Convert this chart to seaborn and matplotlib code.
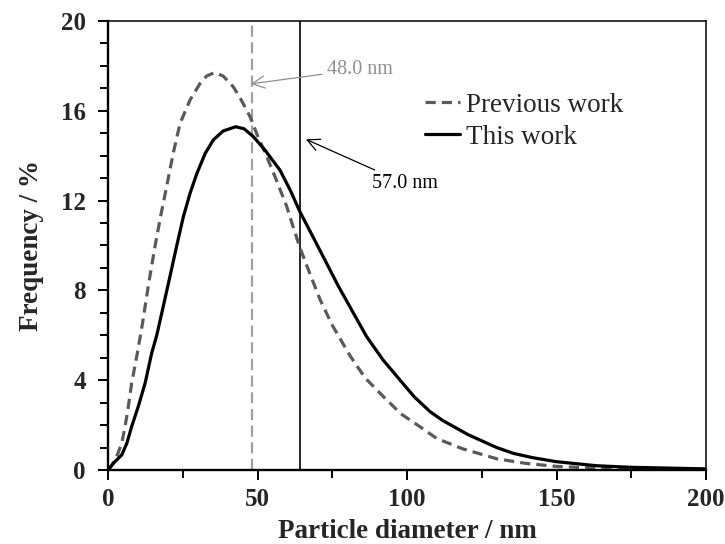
import numpy as np
import pandas as pd
import matplotlib
matplotlib.use("Agg")
import matplotlib.pyplot as plt
from matplotlib.ticker import MultipleLocator
import seaborn as sns

# ---- data ----
prev_x = [0, 1.2, 2.9, 4.6, 5.7, 6.8, 7.9, 9.6, 11.5, 13.6, 15.7, 17.6, 19.6,
          21.8, 24.1, 27.5, 30.8, 33.0, 35.6, 38.5, 41.9, 44.5, 47.5, 50.0,
          53.1, 56.5, 59.8, 62.0, 64.2, 67.5, 70.9, 75.0, 80.9, 86.0, 92.1,
          98.0, 104.3, 110, 118.5, 130, 140, 150, 169, 185, 200]
prev_y = [0, 0.2, 0.59, 1.2, 1.93, 2.82, 3.86, 5.05, 6.5, 8.3, 9.95, 11.3,
          12.62, 14.1, 15.44, 16.5, 17.22, 17.55, 17.70, 17.55, 17.07, 16.5,
          15.74, 14.9, 13.96, 12.85, 11.73, 10.8, 9.9, 8.75, 7.6, 6.45, 5.1,
          4.1, 3.27, 2.5, 1.93, 1.4, 0.95, 0.5, 0.29, 0.16, 0.05, 0.02, 0.01]

this_x = [0, 2.3, 4.6, 6.3, 7.9, 10.1, 12.4, 14.6, 16.3, 18.5, 20.7, 23.0,
          25.2, 27.5, 29.7, 32.5, 35.2, 38.5, 42.7, 45.5, 48.6, 52.5, 57.5,
          61.0, 64.2, 68.5, 73.1, 77.0, 80.9, 86.5, 92.0, 97.7, 102.5, 107.7,
          112.0, 116.6, 120.5, 125, 130, 135.6, 142, 150, 163.4, 175, 200]
this_y = [0, 0.37, 0.67, 1.19, 1.93, 2.82, 3.86, 5.2, 6.0, 7.3, 8.61, 10.0,
          11.28, 12.35, 13.2, 14.1, 14.7, 15.1, 15.29, 15.2, 14.85, 14.25,
          13.36, 12.45, 11.5, 10.4, 9.21, 8.2, 7.27, 5.94, 4.9, 4.0, 3.25,
          2.6, 2.2, 1.86, 1.57, 1.3, 1.0, 0.74, 0.55, 0.37, 0.19, 0.12, 0.05]

series_labels = ["Previous work", "This work"]
prev_marker_x = 48.0
this_marker_x = 64.2
prev_note = "48.0 nm"
this_note = "57.0 nm"
x_ticks = [0, 50, 100, 150, 200]
y_ticks = [0, 4, 8, 12, 16, 20]

# ---- style ----
sns.set_theme(style="ticks")
plt.rcParams["font.family"] = ["Liberation Serif", "DejaVu Serif"]

fig = plt.figure(figsize=(7.25, 5.44), dpi=100)
ax = fig.add_axes([108 / 725, 74 / 544, 598 / 725, 449 / 544])

df_prev = pd.DataFrame({"x": prev_x, "y": prev_y})
df_this = pd.DataFrame({"x": this_x, "y": this_y})

sns.lineplot(data=df_prev, x="x", y="y", ax=ax, color="#5a5a5a",
             linewidth=2.3, label=series_labels[0], sort=True)
ax.lines[-1].set_dashes([3.2, 1.9])
ax.lines[-1].set_solid_joinstyle("round")
sns.lineplot(data=df_this, x="x", y="y", ax=ax, color="black",
             linewidth=2.3, label=series_labels[1], sort=True)
ax.lines[-1].set_solid_joinstyle("round")

ax.axvline(prev_marker_x, color="#a0a0a0", linewidth=1.6,
           linestyle=(0, (5, 2.5)), zorder=1)
ax.axvline(this_marker_x, color="black", linewidth=1.2, zorder=1)

ax.annotate(prev_note, xy=(47.8, 17.2), xytext=(73.1, 17.85),
            color="#8f8f8f", fontsize=14.5, ha="left", va="center",
            arrowprops=dict(arrowstyle="->,head_length=0.6,head_width=0.3",
                            color="#8f8f8f", lw=0.9, shrinkA=1, shrinkB=0))
ax.annotate(this_note, xy=(66.2, 14.73), xytext=(88.2, 12.77),
            color="black", fontsize=14.5, ha="left", va="center",
            arrowprops=dict(arrowstyle="->,head_length=0.6,head_width=0.3",
                            color="black", lw=0.9, shrinkA=1, shrinkB=0))

ax.set_xlim(0, 200)
ax.set_ylim(0, 20)
ax.set_xticks(x_ticks)
ax.set_yticks(y_ticks)
ax.xaxis.set_minor_locator(MultipleLocator(25))
ax.yaxis.set_minor_locator(MultipleLocator(1))
ax.tick_params(axis="both", which="major", direction="out", length=7,
               width=1.4, labelsize=18, color="black")
ax.tick_params(axis="both", which="minor", direction="out", length=6,
               width=1.4, color="black")
ax.tick_params(axis="y", which="major", pad=9)
ax.tick_params(axis="x", which="major", pad=6)
for lab in ax.get_xticklabels() + ax.get_yticklabels():
    lab.set_fontweight("bold")

for side in ["left", "bottom"]:
    ax.spines[side].set_linewidth(1.7)
    ax.spines[side].set_color("black")
for side in ["top", "right"]:
    ax.spines[side].set_visible(True)
    ax.spines[side].set_linewidth(1.1)
    ax.spines[side].set_color("black")

ax.set_xlabel("Particle diameter / nm", fontsize=19.5, fontweight="bold",
              labelpad=6)
ax.set_ylabel("Frequency / %", fontsize=19.5, fontweight="bold", labelpad=12)

leg = ax.legend(loc="center left", bbox_to_anchor=(0.530, 0.777),
                frameon=False, fontsize=19.5, handlelength=1.3,
                handletextpad=0.2, labelspacing=0.25, borderpad=0,
                borderaxespad=0)

fig.savefig("out.png", dpi=100)
